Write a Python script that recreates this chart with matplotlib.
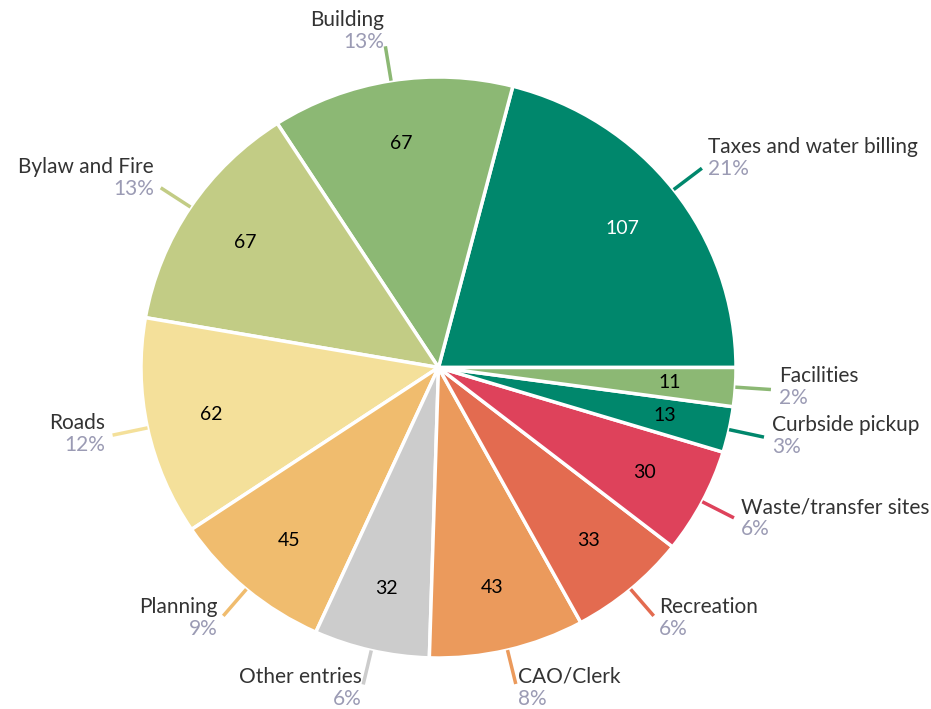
import matplotlib.pyplot as plt
import numpy as np

categories = ["Taxes and water billing", "Building", "Bylaw and Fire", "Roads",
              "Planning", "Other entries", "CAO/Clerk", "Recreation",
              "Waste/transfer sites", "Curbside pickup", "Facilities"]
values = [107, 67, 67, 62, 45, 32, 43, 33, 30, 13, 11]
colors = ["#00876c", "#8cb874", "#c2cc85", "#f4e09a", "#f0bc6e", "#cccccc",
          "#eb9a5c", "#e36b50", "#de425b", "#00876c", "#8cb874"]
value_colors = ["white"] + ["black"] * 10

W, H = 931, 709
cx, cy = 438.5, 367.5   # pixel centre
rx, ry = 297.5, 290.5   # the reference pie is very slightly squashed

plt.rcParams["font.family"] = ["Lato", "DejaVu Sans"]

fig = plt.figure(figsize=(W / 100, H / 100), dpi=100)
ax = fig.add_axes([0, 0, 1, 1])

wedges, texts = ax.pie(values, colors=colors, startangle=0, counterclock=True,
                       radius=1.0, labels=[str(v) for v in values],
                       labeldistance=0.78,
                       wedgeprops=dict(edgecolor="white", linewidth=2.5),
                       textprops=dict(fontsize=14))
for t, c in zip(texts, value_colors):
    t.set_color(c)
    t.set_ha("center")
    t.set_va("center")

total = sum(values)
pxx, pxy = 1.0 / rx, 1.0 / ry
for w, name, v, c in zip(wedges, categories, values, colors):
    th = np.deg2rad((w.theta1 + w.theta2) / 2)
    cs, sn = np.cos(th), np.sin(th)
    ax.plot([1.0 * cs, 1.12 * cs], [1.0 * sn, 1.12 * sn], color=c, lw=2.5,
            solid_capstyle="butt")
    ex, ey = 1.12 * cs, 1.12 * sn
    ha = "left" if cs >= 0 else "right"
    tx = ex + np.sign(cs) * 8 * abs(cs) * pxx
    up = 3 + 12 * sn if sn > 0 else 3 + 7 * sn
    ty = ey + up * pxy
    ax.text(tx, ty + 1 * pxy, name, ha=ha, va="bottom", fontsize=15,
            color="#333333")
    ax.text(tx, ty - 1 * pxy, f"{round(v / total * 100)}%", ha=ha, va="top",
            fontsize=15, color="#9b9bb4")

ax.set_xlim(-cx / rx, (W - cx) / rx)
ax.set_ylim(-(H - cy) / ry, cy / ry)
ax.set_aspect("auto")
ax.axis("off")

fig.savefig("out.png", dpi=100, facecolor="white")
